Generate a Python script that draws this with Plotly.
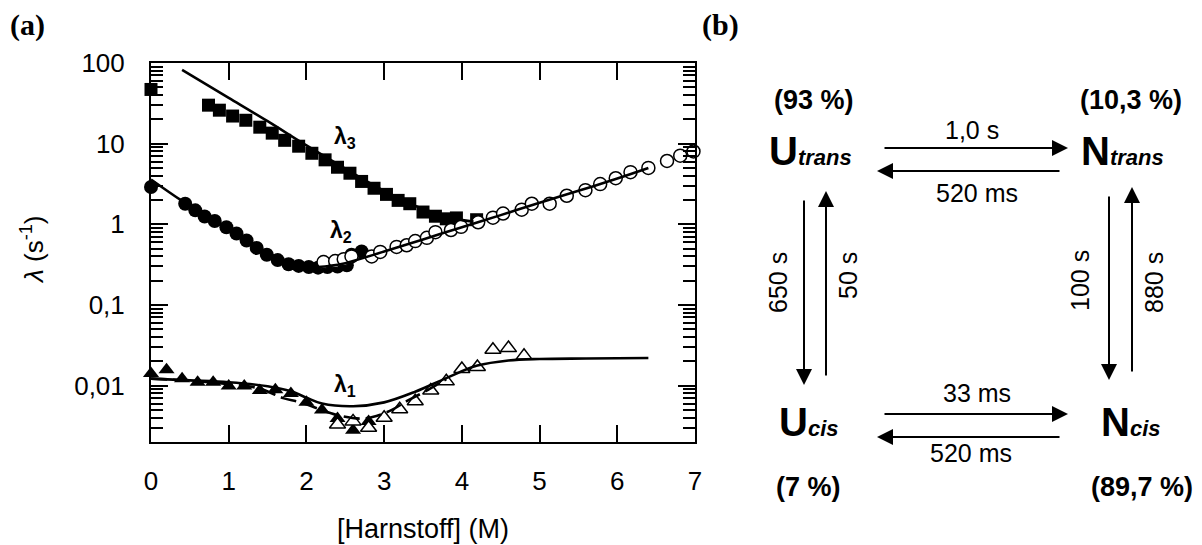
import plotly.graph_objects as go

# ---------------- data ----------------
l3_x = [0, 0.74, 0.88, 1.05, 1.22, 1.40, 1.56, 1.72, 1.90, 2.07, 2.24, 2.40, 2.56, 2.71,
        2.87, 3.03, 3.18, 3.33, 3.50, 3.66, 3.80, 3.93, 4.19]
l3_y = [47, 30, 26, 22, 19.5, 16, 13.5, 11, 9.3, 7.6, 6.3, 5.1, 4.3, 3.4,
        2.8, 2.35, 1.98, 1.8, 1.42, 1.26, 1.17, 1.2, 1.14]

l2f_x = [0, 0.44, 0.57, 0.69, 0.82, 0.97, 1.10, 1.23, 1.36, 1.49, 1.63, 1.77, 1.90,
         2.03, 2.15, 2.27, 2.40, 2.52, 2.58, 2.71]
l2f_y = [2.9, 1.8, 1.49, 1.25, 1.1, 0.92, 0.77, 0.63, 0.51, 0.42, 0.36, 0.32, 0.305,
         0.295, 0.29, 0.295, 0.30, 0.31, 0.42, 0.46]

l2o_x = [2.22, 2.37, 2.48, 2.58, 2.84, 2.95, 3.16, 3.29, 3.40, 3.55, 3.66, 3.86, 3.99,
         4.21, 4.40, 4.53, 4.77, 4.90, 5.13, 5.35, 5.59, 5.78, 5.98, 6.17, 6.40, 6.64,
         6.81, 6.98]
l2o_y = [0.34, 0.35, 0.37, 0.40, 0.40, 0.455, 0.525, 0.55, 0.62, 0.68, 0.80, 0.85, 0.93,
         1.06, 1.21, 1.36, 1.52, 1.80, 1.80, 2.26, 2.65, 3.15, 3.73, 4.43, 5.0, 6.1,
         7.1, 8.0]

l1f_x = [0, 0.2, 0.4, 0.6, 0.8, 1.0, 1.2, 1.4, 1.6, 1.8, 2.0, 2.2, 2.4, 2.6, 2.8]
l1f_y = [0.0141, 0.0157, 0.0122, 0.011, 0.011, 0.0099, 0.0099, 0.0087, 0.0089, 0.0080,
         0.0062, 0.0050, 0.0039, 0.0028, 0.0036]

l1o_x = [2.4, 2.6, 2.8, 3.0, 3.2, 3.4, 3.6, 3.8, 4.0, 4.2, 4.4, 4.6, 4.8]
l1o_y = [0.0033, 0.0036, 0.0030, 0.0040, 0.0051, 0.0064, 0.0087, 0.0113, 0.0161, 0.017,
         0.0278, 0.0292, 0.0234]

fit3_x = [0.4, 1.0, 1.5, 2.0, 2.5, 3.0, 3.5, 3.9, 4.15]
fit3_y = [82, 37, 19, 9.5, 4.9, 2.6, 1.55, 1.18, 1.08]

fit2_x = [0, 0.4, 0.8, 1.2, 1.6, 1.9, 2.1, 2.3, 2.5, 3.0, 3.5, 4.0, 4.5, 5.0, 5.5, 6.0, 6.4]
fit2_y = [3.6, 1.95, 1.12, 0.65, 0.40, 0.315, 0.295, 0.305, 0.33, 0.46, 0.65, 0.92, 1.30,
          1.85, 2.6, 3.7, 5.0]

fit1_x = [0, 0.5, 1.0, 1.5, 1.8, 2.0, 2.2, 2.6, 3.0, 3.4, 3.8, 4.2, 4.6, 5.0, 5.6, 6.4]
fit1_y = [0.0122, 0.0116, 0.011, 0.0098, 0.0085, 0.0071, 0.0060, 0.00555, 0.0062, 0.0084,
          0.0124, 0.0177, 0.0205, 0.0214, 0.0217, 0.022]

fit1d_x = [0, 0.5, 1.0, 1.4, 1.7, 1.9, 2.1, 2.4, 2.7, 2.9, 3.1, 3.3, 3.5, 3.8]
fit1d_y = [0.0122, 0.0115, 0.0104, 0.0092, 0.0070, 0.0063, 0.0054, 0.0043, 0.0039, 0.0042,
           0.0050, 0.0065, 0.0082, 0.0120]

x_ticks = [0, 1, 2, 3, 4, 5, 6, 7]
y_decades = [0.001, 0.01, 0.1, 1, 10]
y_minor = [d * k for d in y_decades for k in range(2, 10)]

# ---------------- figure ----------------
W, H = 1202, 545
L, R, T, B = 151, 695, 63, 442
FONT = "Liberation Sans, Arial, sans-serif"

fig = go.Figure()

def mk(x, y, symbol, size, fill, lw=0):
    return go.Scatter(x=x, y=y, mode="markers", cliponaxis=False, showlegend=False,
                      marker=dict(symbol=symbol, size=size, color=fill,
                                  line=dict(color="black", width=lw)))

fig.add_trace(mk(l3_x, l3_y, "square", 13, "black"))
fig.add_trace(mk(l2f_x, l2f_y, "circle", 14, "black"))
fig.add_trace(mk(l2o_x, l2o_y, "circle", 13, "white", 1.5))
fig.add_trace(mk(l1f_x, l1f_y, "triangle-up", 14, "black"))
fig.add_trace(mk(l1o_x, l1o_y, "triangle-up", 14, "white", 1.5))

def ln(x, y, dash="solid"):
    return go.Scatter(x=x, y=y, mode="lines", showlegend=False, line_shape="spline",
                      line=dict(color="black", width=2.6, dash=dash))

fig.add_trace(ln(fit3_x, fit3_y))
fig.add_trace(ln(fit2_x, fit2_y))
fig.add_trace(ln(fit1_x, fit1_y))
fig.add_trace(ln(fit1d_x, fit1d_y, dash="16px,6px"))

fig.update_xaxes(range=[0, 7], tickmode="array", tickvals=x_ticks,
                 ticks="inside", ticklen=17, tickwidth=1.5, tickcolor="black",
                 showline=True, linecolor="black", linewidth=2, mirror="ticks",
                 showgrid=False, zeroline=False, ticklabelstandoff=15,
                 tickfont=dict(family=FONT, size=26, color="black"))
fig.update_yaxes(type="log", range=[-2.699, 2], tickmode="linear", tick0=0, dtick=1,
                 ticks="inside", ticklen=17, tickwidth=1.5, tickcolor="black",
                 minor=dict(ticks="inside", ticklen=12, tickwidth=1.5, tickcolor="black",
                            tickmode="array", tickvals=y_minor, showgrid=False),
                 showline=True, linecolor="black", linewidth=2, mirror="ticks",
                 showgrid=False, zeroline=False, ticklabelstandoff=19,
                 tickfont=dict(family=FONT, size=26, color="black"))

def P(xp, yp):
    return (xp - L) / (R - L), (B - yp) / (B - T)

ann = []

def text(xp, yp, s, size, angle=0, family=FONT):
    x, y = P(xp, yp)
    ann.append(dict(x=x, y=y, xref="paper", yref="paper", text=s, showarrow=False,
                    textangle=angle, xanchor="center", yanchor="middle",
                    font=dict(family=family, size=size, color="black")))

def arrow(tx, ty, sx, sy):
    x, y = P(tx, ty)
    ann.append(dict(x=x, y=y, xref="paper", yref="paper", text="", showarrow=True,
                    ax=sx - tx, ay=sy - ty, axref="pixel", ayref="pixel",
                    arrowhead=2, arrowsize=1.6, arrowwidth=2, arrowcolor="black",
                    standoff=0, startstandoff=0))

# panel labels
text(27, 25, "<b>(a)</b>", 30, family="Liberation Serif, Times New Roman, serif")
text(720, 25, "<b>(b)</b>", 30, family="Liberation Serif, Times New Roman, serif")

# axis titles
text(423, 529, "[Harnstoff] (M)", 27)
text(32, 250, "<i>λ</i> (s<sup>-1</sup>)", 26, angle=-90)

# curve labels (data coords)
for xv, yv, s in [(2.5, 1.074, "λ<sub>3</sub>"), (2.45, -0.086, "λ<sub>2</sub>"),
                  (2.5, -2.0, "λ<sub>1</sub>")]:
    ann.append(dict(x=xv, y=yv, xref="x", yref="y", text="<b>" + s + "</b>",
                    showarrow=False, font=dict(family=FONT, size=23, color="black")))

# scheme
sub = "<span style='font-size:22px'><i>%s</i></span>"
text(810, 151, "<b>U" + sub % "trans" + "</b>", 40)
text(1122, 151, "<b>N" + sub % "trans" + "</b>", 40)
text(808, 422, "<b>U" + sub % "cis" + "</b>", 40)
text(1130, 422, "<b>N" + sub % "cis" + "</b>", 40)

text(814, 100, "<b>(93 %)</b>", 27)
text(1131, 100, "<b>(10,3 %)</b>", 27)
text(808, 487, "<b>(7 %)</b>", 27)
text(1142, 487, "<b>(89,7 %)</b>", 27)

text(972, 130, "1,0 s", 25)
text(977, 193, "520 ms", 25)
text(977, 393, "33 ms", 25)
text(971, 453, "520 ms", 25)

text(778, 283, "650 s", 25, angle=-90)
text(848, 276, "50 s", 25, angle=-90)
text(1080, 281, "100 s", 25, angle=-90)
text(1154, 283, "880 s", 25, angle=-90)

arrow(1068, 148, 883, 148)
arrow(877, 171, 1061, 171)
arrow(1068, 414, 883, 414)
arrow(877, 437, 1061, 437)
arrow(804, 385, 804, 199)
arrow(826, 191, 826, 377)
arrow(1109, 380, 1109, 195)
arrow(1132, 187, 1132, 373)

fig.update_layout(width=W, height=H, margin=dict(l=L, r=W - R, t=T, b=H - B),
                  paper_bgcolor="white", plot_bgcolor="white",
                  separators=",.", annotations=ann, showlegend=False)

fig.write_html("out.html")
